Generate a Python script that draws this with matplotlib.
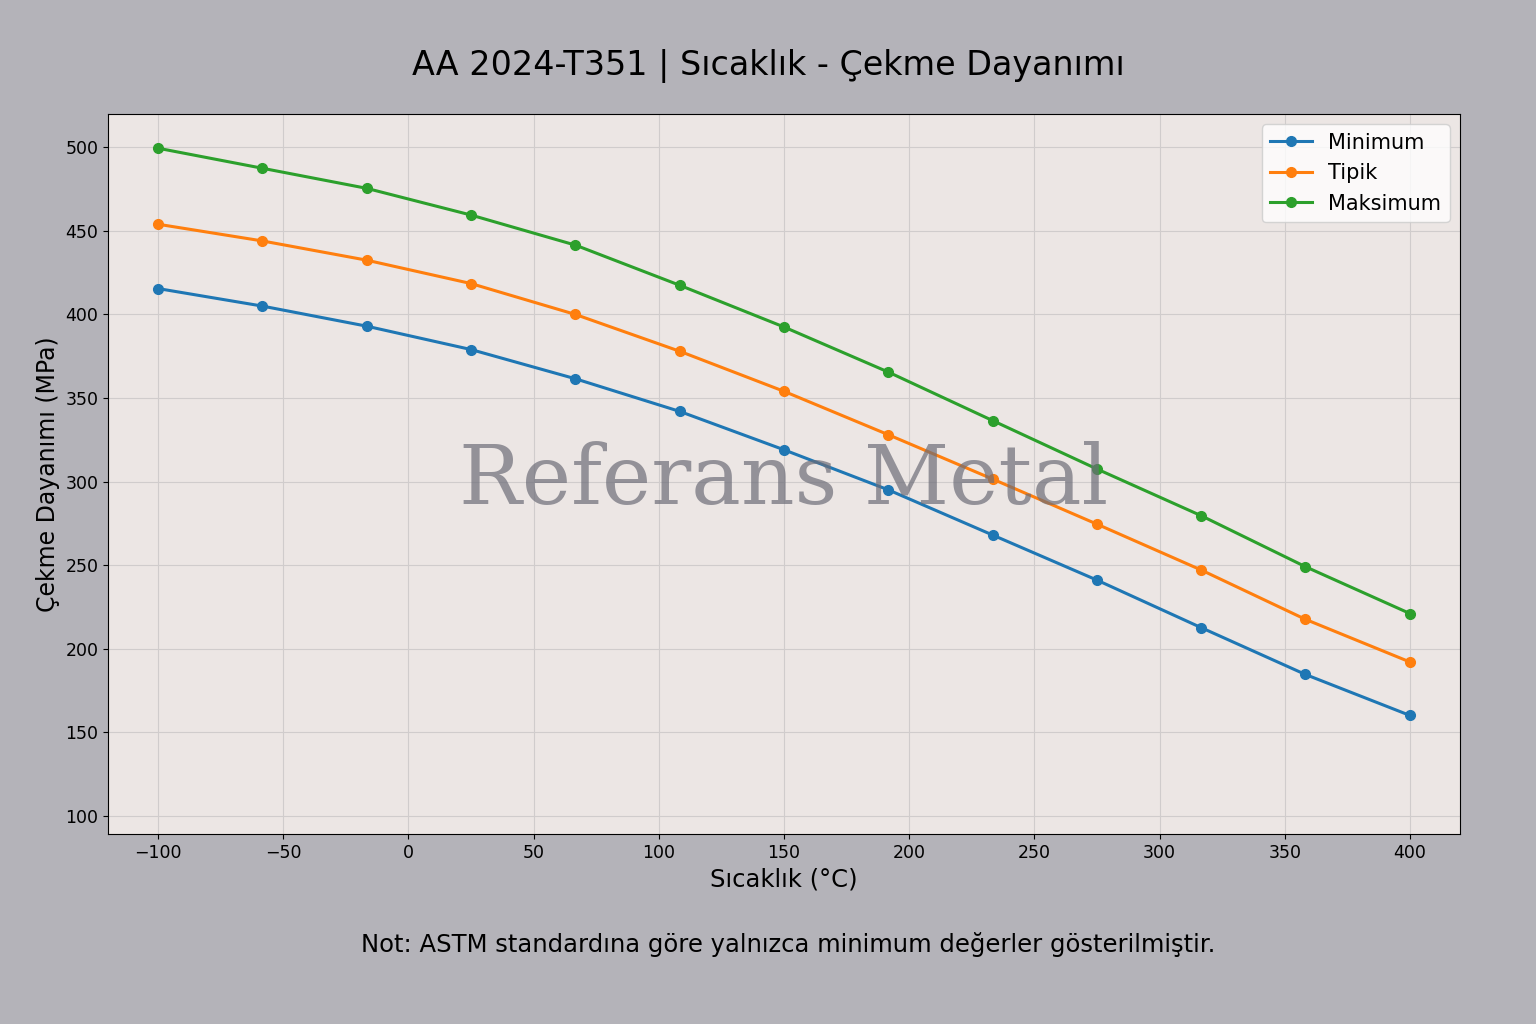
import matplotlib
matplotlib.use("Agg")
import matplotlib.pyplot as plt

temps = [-100, -58.3, -16.7, 25, 66.7, 108.3, 150, 191.7, 233.3, 275, 316.7, 358.3, 400]
minimum = [415.5, 405, 393, 379, 361.5, 342, 319, 295, 268, 241, 212.5, 184.5, 160]
tipik = [454, 444, 432.5, 418.5, 400, 378, 354, 328, 301.5, 274.5, 247, 217.5, 192]
maksimum = [499.5, 487.5, 475.5, 459.5, 441.5, 417.5, 392.5, 365.5, 336.5, 307.5, 279.5, 249, 221]

fig = plt.figure(figsize=(15.36, 10.24), dpi=100, facecolor="#b4b3b9")
ax = fig.add_axes([0.0703, 0.1855, 0.8802, 0.7032])
ax.set_facecolor("#ece6e4")
ax.plot(temps, minimum, "-o", color="#1f77b4", lw=2.2, ms=7, label="Minimum")
ax.plot(temps, tipik, "-o", color="#ff7f0e", lw=2.2, ms=7, label="Tipik")
ax.plot(temps, maksimum, "-o", color="#2ca02c", lw=2.2, ms=7, label="Maksimum")
ax.set_xlim(-120, 420)
ax.set_ylim(89, 520)
ax.set_yticks(range(100, 501, 50))
ax.set_xticks(range(-100, 401, 50))
ax.grid(True, color="#d0cccc", lw=0.8)
ax.tick_params(labelsize=12.5)
ax.set_xlabel("Sıcaklık (°C)", fontsize=17.5)
ax.set_ylabel("Çekme Dayanımı (MPa)", fontsize=17)
ax.legend(loc="upper right", fontsize=15)
ax.text(0.5, 0.49, "Referans Metal", transform=ax.transAxes, ha="center", va="center",
        fontsize=60, family="DejaVu Serif", color="#6d6d78", alpha=0.7)
fig.text(0.5, 0.936, "AA 2024-T351 | Sıcaklık - Çekme Dayanımı", ha="center", va="center", fontsize=24)
fig.text(0.513, 0.078, "Not: ASTM standardına göre yalnızca minimum değerler gösterilmiştir.",
         ha="center", va="center", fontsize=17.5)
fig.savefig("out.png", dpi=100, facecolor=fig.get_facecolor())
